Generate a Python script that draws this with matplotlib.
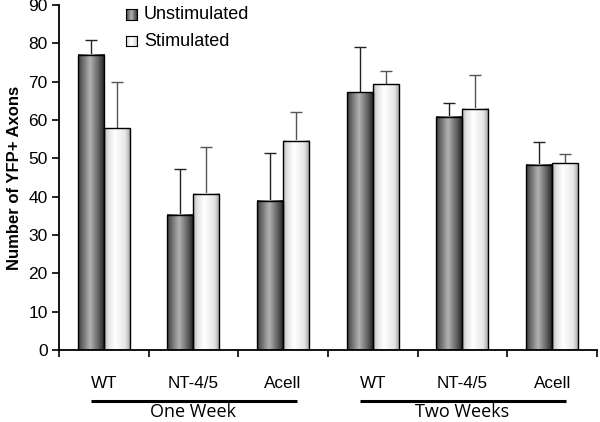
import numpy as np
import matplotlib
matplotlib.use("Agg")
import matplotlib.pyplot as plt
import matplotlib.transforms as mtransforms

# ---- data ----
groups = ["One Week", "Two Weeks"]
labels = ["WT", "NT-4/5", "Acell", "WT", "NT-4/5", "Acell"]
unstim = [77.0, 35.3, 39.0, 67.3, 60.8, 48.3]
unstim_err = [3.8, 11.9, 12.5, 11.7, 3.6, 6.0]
stim = [57.8, 40.8, 54.6, 69.3, 63.0, 48.7]
stim_err = [12.2, 12.1, 7.4, 3.6, 8.7, 2.5]

plt.rcParams['font.family'] = ['Liberation Sans', 'DejaVu Sans']

fig = plt.figure(figsize=(6, 4.22), dpi=100)
ax = fig.add_axes([0.0983, 0.1706, 0.8967, 0.8175])

x = np.arange(len(labels)) + 0.5
w = 0.29

# gradient profiles (cylinder look)
def grad(kind):
    t = np.linspace(0, 1, 64)
    if kind == "dark":
        v = np.interp(t, [0, 0.1, 0.45, 0.8, 1], [0.2, 0.35, 0.7, 0.35, 0.12])
    else:
        v = np.interp(t, [0, 0.15, 0.4, 0.8, 1], [0.72, 0.88, 1.0, 0.9, 0.62])
    return v[None, :]

def shade(bars, kind):
    for b in bars:
        x0, h, bw = b.get_x(), b.get_height(), b.get_width()
        ax.imshow(grad(kind), cmap="gray", vmin=0, vmax=1, aspect="auto",
                  extent=[x0, x0 + bw, 0, h], zorder=1, interpolation="bilinear")
        b.set_facecolor("none")
        b.set_edgecolor("black")
        b.set_linewidth(1.0)
        b.set_zorder(2)

b1 = ax.bar(x - w / 2, unstim, w)
b2 = ax.bar(x + w / 2, stim, w)
shade(b1, "dark")
shade(b2, "light")

for xs, vals, errs, col in [(x - w / 2, unstim, unstim_err, "#222222"),
                            (x + w / 2, stim, stim_err, "#555555")]:
    eb = ax.errorbar(xs, vals, yerr=[np.zeros(len(errs)), errs], fmt="none",
                     ecolor=col, elinewidth=1.0, capsize=4, capthick=1.0, zorder=0.5)
    for cl in eb[1]:
        if np.allclose(cl.get_ydata(), vals):
            cl.set_visible(False)

ax.set_xlim(0, len(labels))
ax.set_ylim(0, 90)
ax.set_yticks(range(0, 91, 10))
ax.set_xticks(range(0, len(labels) + 1))
ax.set_xticklabels([])
ax.tick_params(axis="both", direction="out", length=5, width=1.2, labelsize=12.5, color="black")
ax.tick_params(axis="y", pad=3)
for s in ["top", "right"]:
    ax.spines[s].set_visible(False)
for s in ["left", "bottom"]:
    ax.spines[s].set_linewidth(1.3)
ax.set_ylabel("Number of YFP+ Axons", fontsize=12, fontweight="bold", labelpad=5)

# category labels and group brackets
trans = mtransforms.blended_transform_factory(ax.transData, ax.transAxes)
for xi, lab in zip(x, labels):
    ax.text(xi, -0.096, lab, transform=trans, ha="center", va="center", fontsize=12.3)
for gi, g in enumerate(groups):
    start, end = gi * 3, gi * 3 + 3
    ax.plot([start + 0.36, end - 0.35], [-0.147, -0.147], transform=trans,
            color="black", lw=2.2, clip_on=False, solid_capstyle="butt")
    ax.text((start + end) / 2, -0.206, g, transform=trans, ha="center", va="bottom",
            fontsize=13, family=["Open Sans", "DejaVu Sans"])

# legend with gradient swatches
for i, (name, kind) in enumerate([("Unstimulated", "dark"), ("Stimulated", "light")]):
    yy = 0.958 - i * 0.078
    sw = ax.inset_axes([0.124, yy, 0.021, 0.031])
    sw.imshow(grad(kind), cmap="gray", vmin=0, vmax=1, aspect="auto", interpolation="bilinear")
    sw.set_xticks([])
    sw.set_yticks([])
    for sp in sw.spines.values():
        sp.set_linewidth(0.8)
    ax.text(0.158, yy + 0.015, name, transform=ax.transAxes, ha="left", va="center", fontsize=13)

fig.savefig("out.png", dpi=100)
